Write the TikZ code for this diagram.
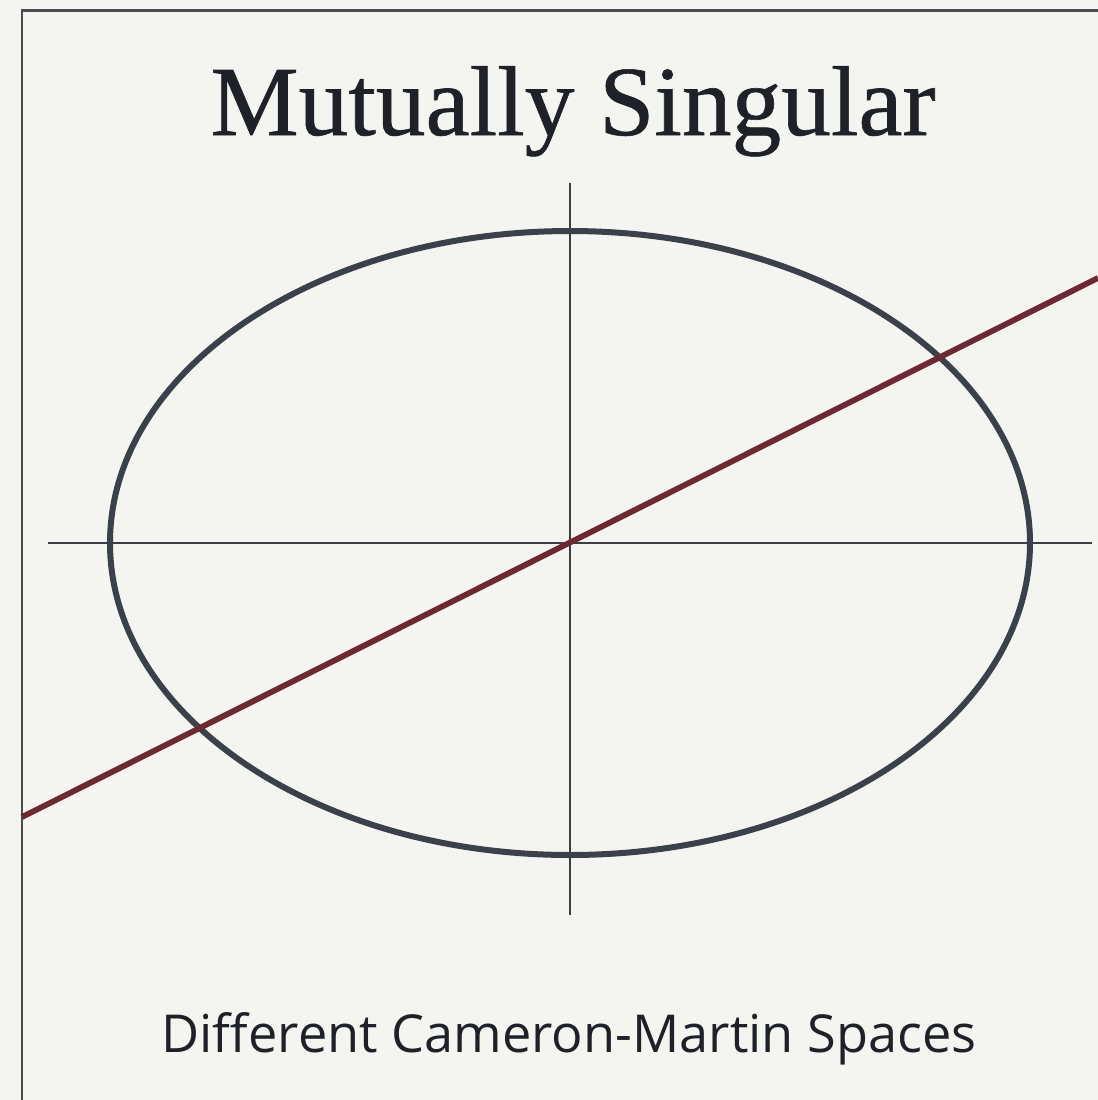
\documentclass[tikz,border=0pt]{standalone}
\usepackage{fontspec}
\setmainfont[FakeBold=0.6]{Liberation Serif}
\newfontfamily\subfont{Open Sans}
\definecolor{bgc}{HTML}{F4F4F0}
\definecolor{framec}{HTML}{4A4C50}
\definecolor{axisc}{HTML}{3A3F46}
\definecolor{ellc}{HTML}{3B414A}
\definecolor{redc}{HTML}{6E2834}
\definecolor{textc}{HTML}{1E2228}
\tikzset{
  frameline/.style={draw=framec, line width=0.06cm},
  axisline/.style={draw=axisc, line width=0.045cm},
  ellline/.style={draw=ellc, line width=0.12cm},
  redline/.style={draw=redc, line width=0.115cm},
}
\begin{document}
\begin{tikzpicture}[x=0.02cm,y=-0.02cm]
\useasboundingbox (0,0) rectangle (1098,1100);
\fill[bgc] (0,0) rectangle (1098,1100);
\begin{scope}
\clip (0,0) rectangle (1098,1100);
\draw[frameline] (22,10) rectangle (1120,1120);
\end{scope}
% axes
\coordinate (O) at (570,543);
\coordinate (hl) at (48,543);
\coordinate (hr) at (1092,543);
\coordinate (vt) at (570,183);
\coordinate (vb) at (570,915);
\draw[axisline] (hl) -- (hr);
\draw[axisline] (vt) -- (vb);
% ellipse
\draw[ellline] (O) ellipse [x radius=460, y radius=312];
% red line
\coordinate (rl) at (22,817);
\coordinate (rr) at (1098,278);
\draw[redline] (rl) -- (rr);
% texts
\node[text=textc, inner sep=0, anchor=base] (title) at (573,135) {\resizebox{14.5cm}{!}{Mutually Singular}};
\node[text=textc, inner sep=0, anchor=base] (sub) at (569,1052) {\resizebox{16.3cm}{!}{\subfont Different Cameron-Martin Spaces}};
\end{tikzpicture}
\end{document}
